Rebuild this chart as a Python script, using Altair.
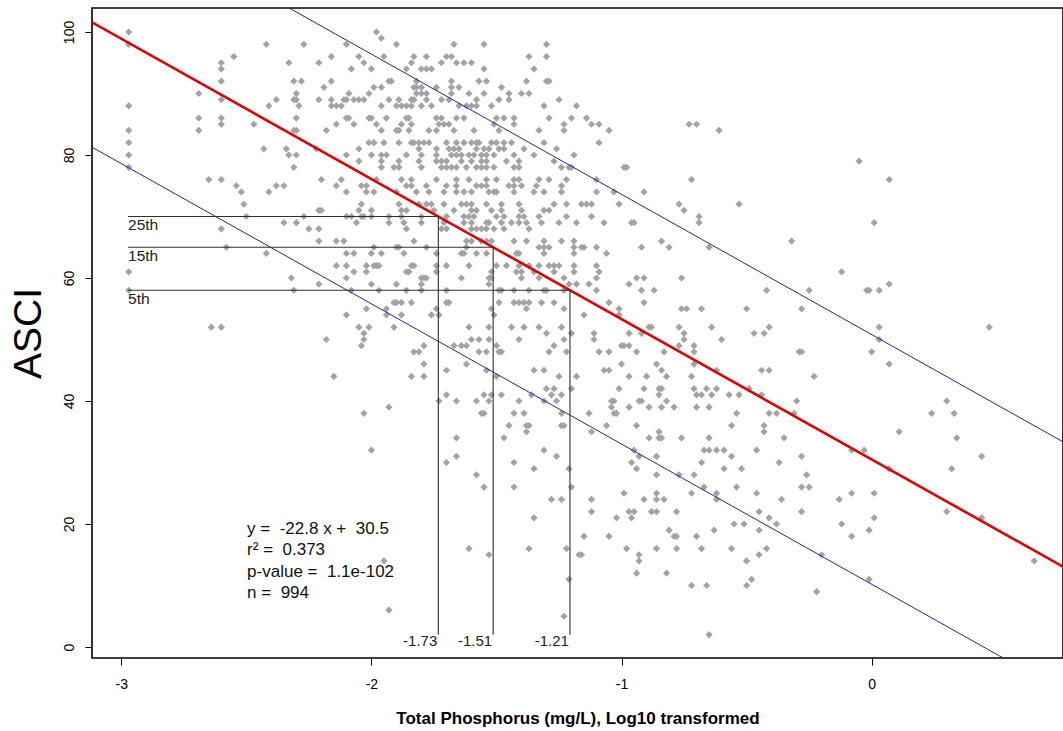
import altair as alt
import pandas as pd

# Regression summary (ASCI ~ log10 TP)
SLOPE = -22.8
INTERCEPT = 30.5
BAND = 20.3          # half-width of the prediction band
R_SQUARED = 0.373
P_VALUE = "1.1e-102"
N_SITES = 994

# ASCI thresholds at reference percentiles
PERCENTILE_LABELS = ["25th", "15th", "5th"]
PERCENTILE_ASCI = [70, 65, 58]

# Axis extents
X_MIN, X_MAX = -3.117, 0.765
Y_MIN, Y_MAX = -1.79, 103.9
X_TICKS = [-3, -2, -1, 0]
Y_TICKS = [0, 20, 40, 60, 80, 100]

# Site observations: log10 total phosphorus grouped by ASCI score
tp_100 = [-2.97, -1.98]
tp_99 = [-1.96]
tp_98 = [-2.97, -2.42, -2.27, -2.10, -1.90, -1.67, -1.55, -1.30]
tp_96 = [-2.55, -2.16, -2.05, -1.95, -1.83, -1.78, -1.70, -1.68, -1.37, -1.30]
tp_95 = [-2.60, -2.33, -2.21, -2.03, -1.84, -1.72, -1.66, -1.63, -1.60]
tp_94 = [-2.60, -2.08, -2.00, -1.86, -1.80, -1.78, -1.76, -1.55, -1.35]
tp_92 = [-2.60, -2.31, -2.28, -2.16, -1.93, -1.92, -1.82, -1.68, -1.57, -1.54, -1.38, -1.30, -1.29]
tp_91 = [-2.19, -1.99, -1.96, -1.83, -1.82, -1.80, -1.74, -1.68, -1.65, -1.48]
tp_90 = [-2.69, -2.30, -2.09, -2.01, -1.82, -1.80, -1.78, -1.68, -1.61, -1.55, -1.45, -1.40, -1.37]
tp_89 = [-2.60, -2.38, -2.31, -2.30, -2.21, -2.16, -2.11, -2.10, -2.07, -2.05, -2.03, -1.93, -1.89,
         -1.84, -1.83, -1.78, -1.72, -1.69, -1.58, -1.49, -1.45, -1.25]
tp_88 = [-2.97, -2.41, -2.29, -2.16, -2.14, -2.12, -1.96, -1.90, -1.88, -1.86, -1.84, -1.80, -1.76,
         -1.65, -1.62, -1.60, -1.58, -1.52, -1.31, -1.18]
tp_86 = [-2.69, -2.60, -2.30, -2.10, -2.09, -2.01, -2.00, -1.94, -1.86, -1.85, -1.74, -1.72, -1.66,
         -1.63, -1.50, -1.47, -1.43, -1.29, -1.20, -1.14]
tp_85 = [-2.60, -2.47, -2.14, -2.07, -1.98, -1.88, -1.84, -1.73, -1.71, -1.69, -1.51, -1.43, -1.23,
         -1.12, -1.09, -0.73, -0.70]
tp_84 = [-2.97, -2.69, -2.31, -2.30, -2.18, -1.96, -1.90, -1.89, -1.85, -1.77, -1.74, -1.67, -1.59,
         -1.49, -1.33, -1.23, -1.05, -0.61]
tp_82 = [-2.97, -2.01, -1.99, -1.95, -1.89, -1.84, -1.83, -1.81, -1.79, -1.77, -1.70, -1.66, -1.63,
         -1.60, -1.58, -1.57, -1.52, -1.50, -1.47, -1.44, -1.31, -1.09]
tp_81 = [-2.43, -2.34, -2.22, -2.05, -1.81, -1.74, -1.69, -1.67, -1.65, -1.58, -1.55, -1.53, -1.49,
         -1.47, -1.39, -1.26]
tp_80 = [-2.97, -2.33, -2.30, -2.10, -2.00, -1.96, -1.94, -1.86, -1.80, -1.74, -1.68, -1.66, -1.64,
         -1.61, -1.59, -1.56, -1.54, -1.51, -1.43, -1.35, -1.19]
tp_79 = [-2.05, -1.96, -1.89, -1.81, -1.74, -1.72, -1.70, -1.64, -1.60, -1.56, -1.54, -1.46, -1.41,
         -1.27, -0.05]
tp_78 = [-2.97, -2.31, -1.96, -1.91, -1.89, -1.80, -1.72, -1.70, -1.68, -1.66, -1.62, -1.58, -1.56,
         -1.54, -1.51, -1.43, -1.41, -1.24, -1.21, -1.20, -0.99, -0.98]
tp_76 = [-2.65, -2.60, -2.20, -2.12, -1.98, -1.88, -1.84, -1.74, -1.66, -1.61, -1.54, -1.50, -1.43,
         -1.41, -1.33, -1.29, -1.22, -1.10, -0.72, 0.07]
tp_75 = [-2.54, -2.38, -2.35, -2.14, -2.04, -2.02, -1.86, -1.84, -1.78, -1.70, -1.66, -1.58, -1.56,
         -1.54, -1.45, -1.43, -1.40, -1.34, -1.24]
tp_74 = [-2.52, -2.41, -2.10, -2.02, -1.99, -1.90, -1.82, -1.77, -1.71, -1.66, -1.63, -1.60, -1.53,
         -1.51, -1.50, -1.43, -1.35, -1.31, -1.24, -1.10, -1.03, -0.91]
tp_72 = [-2.51, -2.04, -1.89, -1.81, -1.78, -1.76, -1.71, -1.64, -1.62, -1.60, -1.54, -1.48, -1.41,
         -1.27, -1.22, -1.16, -1.14, -1.12, -1.01, -0.77, -0.53]
tp_71 = [-2.21, -2.20, -2.05, -2.00, -1.88, -1.86, -1.75, -1.67, -1.60, -1.58, -1.52, -1.48, -1.40,
         -1.31, -1.29, -0.75]
tp_70 = [-2.50, -2.27, -2.10, -2.08, -2.04, -2.03, -2.00, -1.93, -1.88, -1.80, -1.70, -1.63, -1.61,
         -1.59, -1.50, -1.47, -1.41, -1.39, -1.33, -1.22, -1.12, -0.69]
tp_69 = [-2.35, -2.30, -2.06, -1.93, -1.87, -1.80, -1.71, -1.63, -1.60, -1.54, -1.53, -1.48, -1.44,
         -1.41, -1.38, -1.32, -1.25, -1.18, -1.07, -0.96, -0.95, -0.69, 0.01]
tp_68 = [-2.60, -2.25, -2.21, -1.86, -1.72, -1.70, -1.60, -1.58, -1.56, -1.54, -1.51, -1.47, -1.37]
tp_66 = [-2.21, -2.14, -2.11, -1.83, -1.62, -1.60, -1.56, -1.54, -1.52, -1.43, -1.38, -1.31, -1.24,
         -1.19, -0.84, -0.32]
tp_65 = [-2.58, -1.99, -1.90, -1.89, -1.78, -1.62, -1.33, -1.31, -1.29, -1.19, -1.16, -1.15, -1.10,
         -0.92, -0.81, -0.65]
tp_64 = [-2.42, -2.10, -2.07, -2.00, -1.96, -1.87, -1.74, -1.64, -1.63, -1.58, -1.54, -1.42, -1.41,
         -1.31, -1.19, -1.06]
tp_62 = [-2.14, -2.10, -2.02, -1.99, -1.98, -1.97, -1.84, -1.83, -1.74, -1.70, -1.61, -1.50, -1.46,
         -1.41, -1.37, -1.33, -1.29, -1.27, -1.25, -1.19, -1.10]
tp_61 = [-2.97, -2.07, -2.02, -1.86, -1.85, -1.74, -1.52, -1.42, -1.40, -1.35, -1.27, -1.19, -1.09, -0.12]
tp_60 = [-2.32, -2.10, -1.80, -1.79, -1.78, -1.64, -1.53, -1.52, -1.40, -1.33, -1.23, -1.10, -0.94,
         -0.91, -0.76]
tp_59 = [-2.21, -2.00, -1.90, -1.80, -1.53, -1.21, -1.18, -1.13, -0.97, 0.07]
tp_58 = [-2.97, -2.31, -2.08, -1.97, -1.86, -1.80, -1.70, -1.49, -1.48, -1.43, -1.37, -1.31, -1.30,
         -1.23, -1.10, -0.92, -0.87, -0.42, -0.25, -0.02, -0.01, 0.03]
tp_56 = [-1.91, -1.90, -1.88, -1.84, -1.70, -1.69, -1.49, -1.43, -1.41, -1.39, -1.37, -1.32, -1.27,
         -1.05, -0.91]
tp_55 = [-2.02, -1.94, -1.74, -1.52, -1.38, -1.23, -1.01, -0.76, -0.74, -0.68, -0.50, -0.28]
tp_54 = [-2.10, -1.94, -1.88, -1.76, -1.73, -1.51, -1.15, -1.01]
tp_52 = [-2.64, -2.60, -2.05, -2.01, -1.91, -1.61, -1.53, -1.44, -1.39, -1.33, -1.24, -0.89, -0.88,
         -0.77, -0.64, -0.41, 0.03, 0.47]
tp_51 = [-2.03, -1.30, -1.20, -1.11, -0.97, -0.92, -0.75, -0.47, -0.43]
tp_50 = [-2.18, -2.03, -1.60, -1.57, -1.53, -1.41, -1.23, -1.11, -0.75, -0.60, 0.03]
tp_49 = [-2.04, -1.79, -1.67, -1.64, -1.62, -1.50, -1.27, -1.00, -0.99, -0.97, -0.77, -0.71]
tp_48 = [-1.83, -1.81, -1.57, -1.54, -1.49, -1.48, -1.29, -1.22, -1.09, -1.05, -0.94, -0.83, -0.71,
         -0.29, -0.28, 0.00]
tp_46 = [-1.79, -1.62, -1.00, -0.86, -0.71, 0.07]
tp_45 = [-1.70, -1.54, -1.35, -1.31, -1.07, -1.05, -0.84, -0.62, -0.44, -0.41]
tp_44 = [-2.15, -1.84, -1.79, -1.50, -1.25, -1.18, -0.97, -0.90, -0.82, -0.72, -0.23]
tp_42 = [-1.30, -1.27, -1.20, -1.01, -0.91, -0.85, -0.84, -0.71, -0.66, -0.62, -0.49]
tp_41 = [-1.70, -1.55, -1.52, -1.48, -1.36, -1.28, -1.24, -0.85, -0.70, -0.68, -0.64, -0.57, -0.53, -0.44]
tp_40 = [-1.73, -1.66, -1.58, -1.53, -1.41, -1.31, -1.26, -1.04, -1.03, -0.93, -0.92, -0.82, -0.30, 0.30]
tp_39 = [-1.93, -1.04, -0.97, -0.89, -0.84, -0.79, -0.70, -0.65]
tp_38 = [-2.03, -1.56, -1.55, -1.43, -1.39, -1.24, -1.13, -1.03, -1.02, -0.54, -0.41, -0.38, -0.31,
         0.24, 0.33]
tp_36 = [-1.45, -1.38, -1.37, -1.24, -1.23, -1.06, -0.94, -0.56, -0.43]
tp_35 = [-1.38, -1.12, -0.85, -0.43, 0.11]
tp_34 = [-1.66, -1.47, -0.89, -0.85, -0.84, -0.76, -0.65, -0.35, 0.34]
tp_32 = [-2.00, -1.31, -0.95, -0.67, -0.65, -0.62, -0.59, -0.46, -0.08, -0.03]
tp_31 = [-1.66, -1.26, -0.93, -0.86, -0.56, -0.28, 0.44]
tp_30 = [-1.70, -1.43, -0.96, -0.68, -0.37]
tp_29 = [-1.35, -1.21, -0.94, -0.59, -0.52, 0.07, 0.32]
tp_28 = [-1.58, -0.86, -0.77, -0.71, -0.26]
tp_26 = [-1.55, -1.43, -1.20, -0.67, -0.54, -0.28, -0.25]
tp_25 = [-0.99, -0.86, -0.72, -0.62, -0.46, -0.08, 0.01]
tp_24 = [-1.28, -1.24, -1.12, -0.91, -0.86, -0.83, -0.62, -0.36, -0.13]
tp_22 = [-1.12, -0.97, -0.95, -0.88, -0.86, -0.78, -0.45, -0.28, 0.30]
tp_21 = [-1.35, -1.02, -0.96, -0.41, 0.01, 0.44]
tp_20 = [-0.55, -0.51, -0.38, -0.12]
tp_19 = [-0.81, -0.63, -0.45, -0.01]
tp_18 = [-1.15, -1.05, -0.79, -0.78, -0.70, -0.08]
tp_16 = [-1.61, -1.37, -1.22, -0.98, -0.86, -0.78, -0.68, -0.56, -0.42]
tp_15 = [-1.53, -1.17, -1.16, -0.93, -0.45, -0.20]
tp_14 = [-1.95, -0.93, -0.50, 0.65]
tp_12 = [-0.94, -0.82]
tp_11 = [-1.21, -0.48, -0.01]
tp_10 = [-0.72, -0.66, -0.50]
tp_9 = [-0.22]
tp_6 = [-1.93]
tp_5 = [-1.23]
tp_2 = [-0.65]

score_groups = {
    100: tp_100, 99: tp_99, 98: tp_98, 96: tp_96, 95: tp_95, 94: tp_94, 92: tp_92, 91: tp_91,
    90: tp_90, 89: tp_89, 88: tp_88, 86: tp_86, 85: tp_85, 84: tp_84, 82: tp_82, 81: tp_81,
    80: tp_80, 79: tp_79, 78: tp_78, 76: tp_76, 75: tp_75, 74: tp_74, 72: tp_72, 71: tp_71,
    70: tp_70, 69: tp_69, 68: tp_68, 66: tp_66, 65: tp_65, 64: tp_64, 62: tp_62, 61: tp_61,
    60: tp_60, 59: tp_59, 58: tp_58, 56: tp_56, 55: tp_55, 54: tp_54, 52: tp_52, 51: tp_51,
    50: tp_50, 49: tp_49, 48: tp_48, 46: tp_46, 45: tp_45, 44: tp_44, 42: tp_42, 41: tp_41,
    40: tp_40, 39: tp_39, 38: tp_38, 36: tp_36, 35: tp_35, 34: tp_34, 32: tp_32, 31: tp_31,
    30: tp_30, 29: tp_29, 28: tp_28, 26: tp_26, 25: tp_25, 24: tp_24, 22: tp_22, 21: tp_21,
    20: tp_20, 19: tp_19, 18: tp_18, 16: tp_16, 15: tp_15, 14: tp_14, 12: tp_12, 11: tp_11,
    10: tp_10, 9: tp_9, 6: tp_6, 5: tp_5, 2: tp_2,
}

FONT = "Liberation Sans"
NBSP = "\u00a0"

sites = pd.DataFrame(
    [(tp, score) for score, values in score_groups.items() for tp in values],
    columns=["tp", "asci"],
)

x_scale = alt.Scale(domain=[X_MIN, X_MAX], nice=False, zero=False)
y_scale = alt.Scale(domain=[Y_MIN, Y_MAX], nice=False, zero=False)

# Plain hyphen-minus in tick labels
x_enc = alt.X(
    "tp:Q", scale=x_scale,
    axis=alt.Axis(values=X_TICKS, labelExpr="'' + datum.value",
                  title="Total Phosphorus (mg/L), Log10 transformed",
                  titleFontWeight="bold", titleFontSize=17, titlePadding=19,
                  labelPadding=12),
)
y_enc = alt.Y(
    "asci:Q", scale=y_scale,
    axis=alt.Axis(values=Y_TICKS, labelExpr="'' + datum.value", title="ASCI",
                  titleFontSize=39, titleFontWeight="normal",
                  titlePadding=14, labelAngle=-90, labelAlign="center",
                  labelBaseline="bottom", labelPadding=9),
)

points = alt.Chart(sites).mark_point(
    shape="diamond", filled=True, size=52, color="#a3a3a3", opacity=1
).encode(x=x_enc, y=y_enc)

# Fitted line and prediction band, evaluated at the axis limits
line_x = [X_MIN, X_MAX]
fit = pd.DataFrame({
    "tp": line_x,
    "asci": [INTERCEPT + SLOPE * x for x in line_x],
})
band = pd.DataFrame({
    "tp": line_x * 2,
    "asci": [INTERCEPT + SLOPE * x + BAND for x in line_x] + [INTERCEPT + SLOPE * x - BAND for x in line_x],
    "side": ["upper", "upper", "lower", "lower"],
})

fit_line = alt.Chart(fit).mark_line(color="#e00000", strokeWidth=2.6, clip=True).encode(
    x=alt.X("tp:Q", scale=x_scale), y=alt.Y("asci:Q", scale=y_scale)
)
band_lines = alt.Chart(band).mark_line(color="#2424a8", strokeWidth=1, clip=True).encode(
    x=alt.X("tp:Q", scale=x_scale), y=alt.Y("asci:Q", scale=y_scale), detail="side:N"
)

# Percentile thresholds projected through the fitted line
X_START = -2.973
Y_FLOOR = 2.0
thresholds = pd.DataFrame({"label": PERCENTILE_LABELS, "asci": PERCENTILE_ASCI})
thresholds["tp"] = (thresholds["asci"] - INTERCEPT) / SLOPE
thresholds["tp_text"] = thresholds["tp"].map(lambda v: f"{v:.2f}")
thresholds["x0"] = X_START
thresholds["y0"] = Y_FLOOR
thresholds["ylab"] = 0.2

h_rules = alt.Chart(thresholds).mark_rule(color="#303030", strokeWidth=1.1).encode(
    x=alt.X("x0:Q", scale=x_scale), x2="tp:Q", y=alt.Y("asci:Q", scale=y_scale)
)
v_rules = alt.Chart(thresholds).mark_rule(color="#303030", strokeWidth=1.1).encode(
    x=alt.X("tp:Q", scale=x_scale), y=alt.Y("asci:Q", scale=y_scale), y2="y0:Q"
)
pct_labels = alt.Chart(thresholds).mark_text(
    align="left", baseline="top", dy=1.5, font=FONT, fontSize=15.5, color="#222222"
).encode(x=alt.X("x0:Q", scale=x_scale), y=alt.Y("asci:Q", scale=y_scale), text="label:N")
tp_labels = alt.Chart(thresholds).mark_text(
    align="right", baseline="alphabetic", dx=-1, font=FONT, fontSize=15, color="#222222"
).encode(x=alt.X("tp:Q", scale=x_scale), y=alt.Y("ylab:Q", scale=y_scale), text="tp_text:N")

# Regression statistics block
stats = pd.DataFrame({
    "text": [
        f"y ={NBSP} {SLOPE} x +{NBSP} {INTERCEPT}",
        f"r\u00b2 ={NBSP} {R_SQUARED}",
        f"p-value ={NBSP} {P_VALUE}",
        f"n ={NBSP} {N_SITES}",
    ],
    "asci": [18.4, 14.9, 11.4, 7.9],
})
stats["tp"] = -2.497
stats_text = alt.Chart(stats).mark_text(
    align="left", baseline="alphabetic", font=FONT, fontSize=17, color="#111111"
).encode(x=alt.X("tp:Q", scale=x_scale), y=alt.Y("asci:Q", scale=y_scale), text="text:N")

chart = alt.layer(
    points, band_lines, fit_line, h_rules, v_rules, pct_labels, tp_labels, stats_text
).properties(
    width=971, height=650,
    autosize=alt.AutoSizeParams(type="none"),
    padding={"left": 92, "top": 8, "right": 0, "bottom": 73},
    background="white",
).configure_view(
    stroke="black", strokeWidth=1.6
).configure_axis(
    domain=False, grid=False, ticks=True, tickColor="black", tickSize=7, tickWidth=1,
    labelFont=FONT, labelFontSize=14, labelColor="black",
    titleFont=FONT, titleColor="black",
)

chart.save("out.html", embed_options={"renderer": "svg", "actions": False})
